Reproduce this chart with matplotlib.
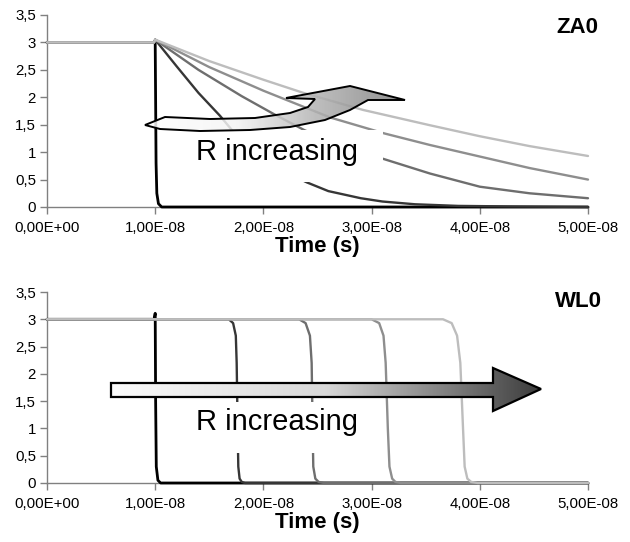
import numpy as np
import matplotlib
matplotlib.use('Agg')
import matplotlib.pyplot as plt
from matplotlib.patches import Polygon, Rectangle
from matplotlib.colors import LinearSegmentedColormap

plt.rcParams['font.family'] = ['Liberation Sans', 'DejaVu Sans']

E = 1e-8  # time unit of the read values

# ---------------- ZA0 (top) ----------------
za_black_t = [0, 1.0, 1.003, 1.008, 1.015, 1.03, 1.06, 5.0]
za_black_y = [3.0, 3.0, 2.2, 0.8, 0.25, 0.06, 0.0, 0.0]
za_dark_t = [0, 0.99, 1.0, 1.2, 1.4, 1.6, 1.71, 1.9, 2.1, 2.4, 2.6, 2.9, 3.1, 3.4, 3.8, 4.3, 5.0]
za_dark_y = [3.0, 3.0, 3.05, 2.56, 2.08, 1.66, 1.40, 1.04, 0.74, 0.45, 0.29, 0.16, 0.10, 0.05, 0.02, 0.01, 0.0]
za_mid1_t = [0, 0.99, 1.0, 1.4, 1.8, 2.1, 2.38, 2.7, 3.12, 3.54, 4.0, 4.46, 5.0]
za_mid1_y = [3.0, 3.0, 3.05, 2.50, 2.02, 1.69, 1.40, 1.13, 0.87, 0.61, 0.37, 0.25, 0.16]
za_mid2_t = [0, 0.99, 1.0, 1.5, 2.0, 2.62, 3.12, 3.54, 4.0, 4.46, 5.0]
za_mid2_y = [3.0, 3.0, 3.05, 2.55, 2.12, 1.63, 1.34, 1.13, 0.92, 0.71, 0.50]
za_light_t = [0, 0.99, 1.0, 1.5, 2.0, 2.37, 2.92, 3.54, 4.0, 4.46, 5.0]
za_light_y = [3.0, 3.0, 3.05, 2.66, 2.32, 2.08, 1.77, 1.49, 1.29, 1.11, 0.93]

# ---------------- WL0 (bottom) ----------------
wl_black_t = [0, 0.99, 1.0, 1.004, 1.01, 1.025, 1.05, 5.0]
wl_black_y = [3.0, 3.0, 3.11, 1.5, 0.3, 0.05, 0.0, 0.0]
wl_dark_t = [0, 1.68, 1.72, 1.745, 1.753, 1.762, 1.768, 1.78, 1.80, 1.83, 5.0]
wl_dark_y = [3.0, 3.0, 2.93, 2.7, 2.2, 1.0, 0.3, 0.08, 0.02, 0.0, 0.0]
wl_mid1_t = [0, 2.33, 2.39, 2.43, 2.446, 2.455, 2.461, 2.48, 2.51, 2.56, 5.0]
wl_mid1_y = [3.0, 3.0, 2.93, 2.7, 2.2, 1.0, 0.3, 0.08, 0.02, 0.0, 0.0]
wl_mid2_t = [0, 3.0, 3.07, 3.11, 3.13, 3.15, 3.165, 3.19, 3.22, 3.27, 5.0]
wl_mid2_y = [3.0, 3.0, 2.93, 2.7, 2.2, 1.0, 0.3, 0.08, 0.02, 0.0, 0.0]
wl_light_t = [0, 3.66, 3.74, 3.79, 3.82, 3.845, 3.86, 3.885, 3.92, 3.98, 5.0]
wl_light_y = [3.0, 3.0, 2.93, 2.7, 2.2, 1.0, 0.3, 0.08, 0.02, 0.0, 0.0]

colors = ['#000000', '#363636', '#6e6e6e', '#8e8e8e', '#bdbdbd']
widths = [2.0, 1.7, 1.7, 1.7, 1.7]

xticks = [0, 1e-8, 2e-8, 3e-8, 4e-8, 5e-8]
xticklabels = ['0,00E+00', '1,00E-08', '2,00E-08', '3,00E-08', '4,00E-08', '5,00E-08']
yticks = [0, 0.5, 1, 1.5, 2, 2.5, 3, 3.5]
yticklabels = ['0', '0,5', '1', '1,5', '2', '2,5', '3', '3,5']

W, H = 630, 542
fig = plt.figure(figsize=(W / 100, H / 100), dpi=100)


def rect(x0, y0, x1, y1):
    return [x0 / W, 1 - y1 / H, (x1 - x0) / W, (y1 - y0) / H]


ax1 = fig.add_axes(rect(47, 15, 588, 207))
ax2 = fig.add_axes(rect(47, 292, 588, 483))

za = [(za_black_t, za_black_y), (za_dark_t, za_dark_y), (za_mid1_t, za_mid1_y),
      (za_mid2_t, za_mid2_y), (za_light_t, za_light_y)]
wl = [(wl_black_t, wl_black_y), (wl_dark_t, wl_dark_y), (wl_mid1_t, wl_mid1_y),
      (wl_mid2_t, wl_mid2_y), (wl_light_t, wl_light_y)]

for ax, series in ((ax1, za), (ax2, wl)):
    for (t, y), c, lw in zip(series, colors, widths):
        ax.plot(np.array(t) * E, y, color=c, lw=lw, zorder=3, clip_on=False,
                solid_joinstyle='round', solid_capstyle='round')
    ax.set_xlim(0, 5e-8)
    ax.set_ylim(0, 3.5)
    ax.spines['top'].set_visible(False)
    ax.spines['right'].set_visible(False)
    for s in ('left', 'bottom'):
        ax.spines[s].set_color('#808080')
        ax.spines[s].set_linewidth(1.0)
    ax.set_xticks(xticks)
    ax.set_xticklabels(xticklabels)
    ax.set_yticks(yticks)
    ax.set_yticklabels(yticklabels)
    ax.tick_params(direction='out', length=5, width=1, color='#808080',
                   labelsize=10.8, pad=3)
    ax.tick_params(axis='x', pad=5)
    ax.set_xlabel('Time (s)', fontsize=16, fontweight='bold', labelpad=1)
    ax.patch.set_visible(False)

# overlay in pixel coordinates for annotations
ov = fig.add_axes([0, 0, 1, 1], zorder=10)
ov.set_xlim(0, W)
ov.set_ylim(H, 0)
ov.axis('off')

# white text boxes
ov.add_patch(Rectangle((185, 130), 198, 52, fc='white', ec='none', zorder=1))
ov.add_patch(Rectangle((185, 402), 198, 51, fc='white', ec='none', zorder=1))
ov.text(196, 160, 'R increasing', fontsize=21, ha='left', va='baseline', zorder=2)
ov.text(196, 430, 'R increasing', fontsize=21, ha='left', va='baseline', zorder=2)

ov.text(556, 33, 'ZA0', fontsize=16, fontweight='bold', ha='left', va='baseline')
ov.text(555, 307, 'WL0', fontsize=16, fontweight='bold', ha='left', va='baseline')

grad = np.linspace(0, 1, 256).reshape(1, -1)

# curved arrow (top)
top_pts = [(145, 125), (165, 117), (210, 119), (255, 118), (290, 113), (308, 107),
           (315, 99), (286, 98), (350, 86), (405, 100), (368, 100), (350, 110),
           (325, 120), (290, 127), (250, 130), (200, 131), (160, 129)]
cm1 = LinearSegmentedColormap.from_list(
    'g1', [(0, '#ffffff'), (0.35, '#f4f4f4'), (0.65, '#b4b4b4'), (1, '#7c7c7c')])
poly1 = Polygon(top_pts, closed=True, fc='none', ec='black', lw=1.4, zorder=4,
                joinstyle='miter')
ov.add_patch(poly1)
im1 = ov.imshow(grad, extent=(145, 405, 131, 86), cmap=cm1, aspect='auto',
                alpha=0.85, zorder=3, interpolation='bilinear')
im1.set_clip_path(poly1)

# straight arrow (bottom)
bot_pts = [(111, 383), (493, 383), (493, 368), (541, 389), (493, 411), (493, 397), (111, 397)]
cm2 = LinearSegmentedColormap.from_list('g2', ['#fbfbfb', '#d8d8d8', '#3c3c3c'])
poly2 = Polygon(bot_pts, closed=True, fc='none', ec='black', lw=1.6, zorder=4,
                joinstyle='miter')
ov.add_patch(poly2)
im2 = ov.imshow(grad, extent=(111, 541, 411, 368), cmap=cm2, aspect='auto',
                zorder=3, interpolation='bilinear')
im2.set_clip_path(poly2)

ov.set_xlim(0, W)
ov.set_ylim(H, 0)

fig.savefig('out.png', dpi=100)
